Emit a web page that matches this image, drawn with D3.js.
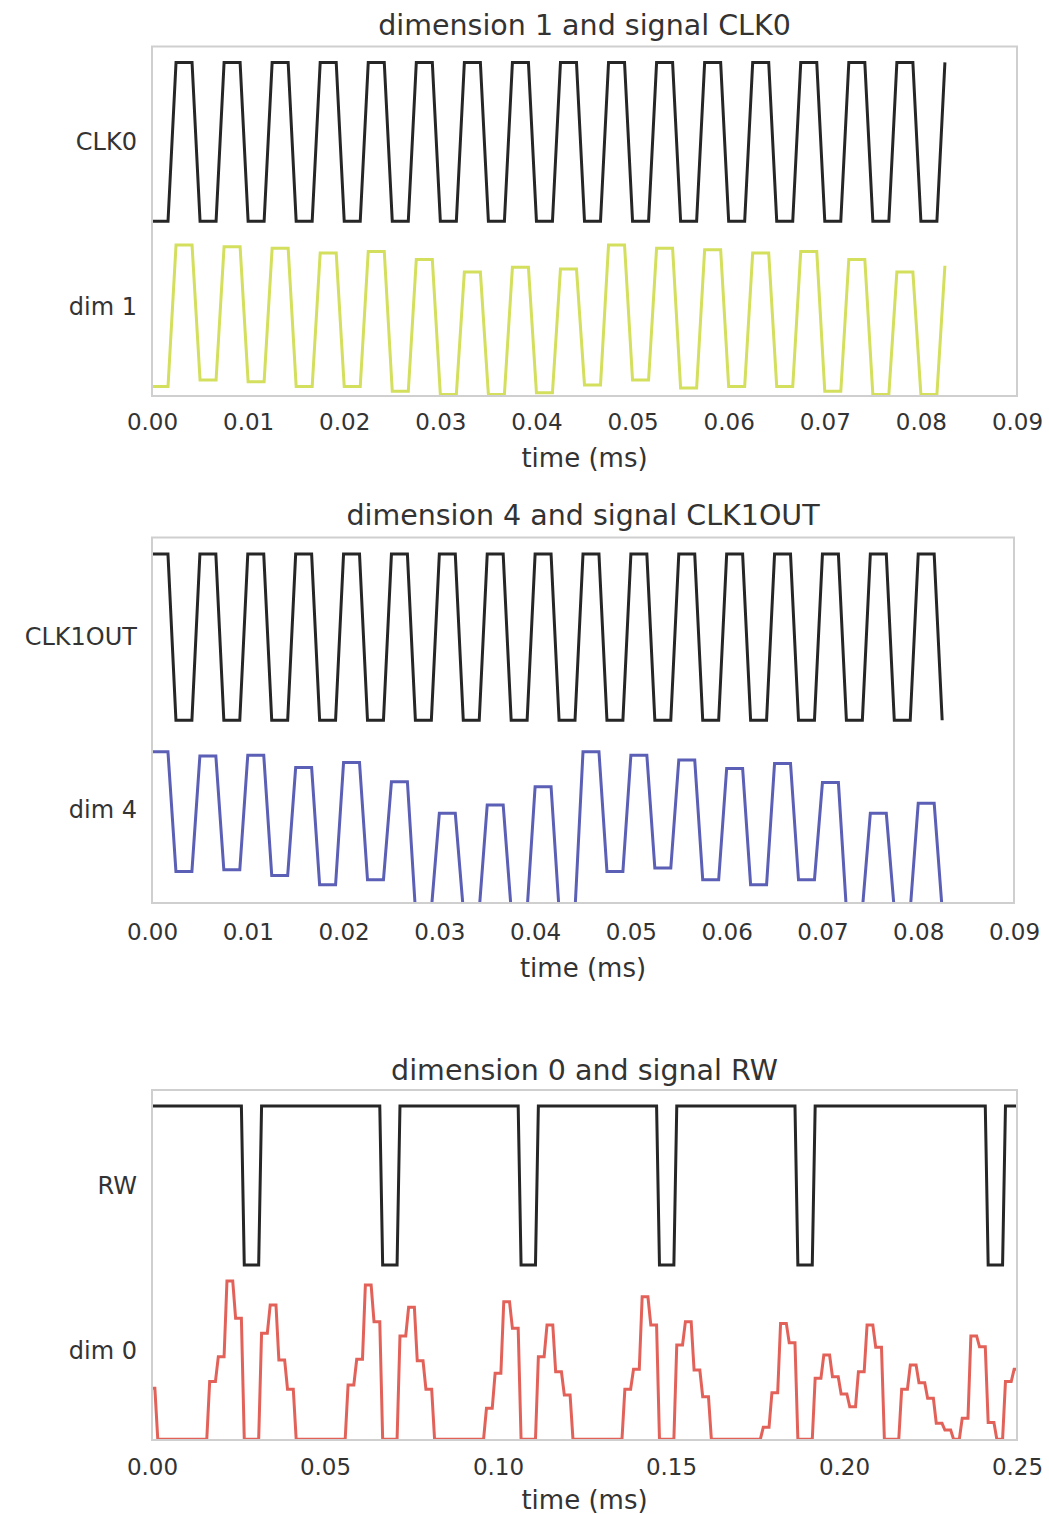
<!DOCTYPE html>
<html>
<head>
<meta charset="utf-8">
<script src="https://cdn.jsdelivr.net/npm/d3@7"></script>
<style>
  body { margin: 0; background: #fff; }
  text { font-family: "DejaVu Sans", sans-serif; fill: #333; }
</style>
</head>
<body>
<svg id="chart" width="1049" height="1514"></svg>
<script>
// Time between consecutive samples, in ms
const sampleStep = 1 / 1200;

// Clock / control signals (0 = low, 1 = high)
const clk0 = [
  0,0,0,1,1,1, 0,0,0,1,1,1, 0,0,0,1,1,1, 0,0,0,1,1,1,
  0,0,0,1,1,1, 0,0,0,1,1,1, 0,0,0,1,1,1, 0,0,0,1,1,1,
  0,0,0,1,1,1, 0,0,0,1,1,1, 0,0,0,1,1,1, 0,0,0,1,1,1,
  0,0,0,1,1,1, 0,0,0,1,1,1, 0,0,0,1,1,1, 0,0,0,1,1,1,
  0,0,0,1
];
const clk1out = [
  1,1,1,0,0,0, 1,1,1,0,0,0, 1,1,1,0,0,0, 1,1,1,0,0,0,
  1,1,1,0,0,0, 1,1,1,0,0,0, 1,1,1,0,0,0, 1,1,1,0,0,0,
  1,1,1,0,0,0, 1,1,1,0,0,0, 1,1,1,0,0,0, 1,1,1,0,0,0,
  1,1,1,0,0,0, 1,1,1,0,0,0, 1,1,1,0,0,0, 1,1,1,0,0,0,
  1,1,1,0
];
const rw = [
  1,1,1,1,1,1,1,1,1,1,1,1,1,1,1,1,1,1,1,1,1,1,1,1,1,1,1,1,1,1,1,1,
  0,0,0,0,0,0,
  1,1,1,1,1,1,1,1,1,1,1,1,1,1,1,1,1,1,1,1,1,1,1,1,1,1,1,1,1,1,1,1,1,1,1,1,1,1,1,1,1,1,
  0,0,0,0,0,0,
  1,1,1,1,1,1,1,1,1,1,1,1,1,1,1,1,1,1,1,1,1,1,1,1,1,1,1,1,1,1,1,1,1,1,1,1,1,1,1,1,1,1,
  0,0,0,0,0,0,
  1,1,1,1,1,1,1,1,1,1,1,1,1,1,1,1,1,1,1,1,1,1,1,1,1,1,1,1,1,1,1,1,1,1,1,1,1,1,1,1,1,1,
  0,0,0,0,0,0,
  1,1,1,1,1,1,1,1,1,1,1,1,1,1,1,1,1,1,1,1,1,1,1,1,1,1,1,1,1,1,1,1,1,1,1,1,1,1,1,1,1,1,
  0,0,0,0,0,0,
  1,1,1,1,1,1,1,1,1,1,1,1,1,1,1,1,1,1,1,1,1,1,1,1,1,1,1,1,1,1,
  1,1,1,1,1,1,1,1,1,1,1,1,1,1,1,1,1,1,1,1,1,1,1,1,1,1,1,1,1,1,
  0,0,0,0,0,0,
  1,1,1,1,1
];

// Model dimensions sampled on the same time base
const dim1 = [
  -0.04,-0.04,-0.04, 0.85,0.85,0.85, 0.00,0.00,0.00, 0.84,0.84,0.84,
  -0.01,-0.01,-0.01, 0.83,0.83,0.83, -0.04,-0.04,-0.04, 0.80,0.80,0.80,
  -0.04,-0.04,-0.04, 0.81,0.81,0.81, -0.07,-0.07,-0.07, 0.76,0.76,0.76,
  -0.09,-0.09,-0.09, 0.68,0.68,0.68, -0.09,-0.09,-0.09, 0.71,0.71,0.71,
  -0.08,-0.08,-0.08, 0.70,0.70,0.70, -0.03,-0.03,-0.03, 0.85,0.85,0.85,
  0.00,0.00,0.00, 0.83,0.83,0.83, -0.05,-0.05,-0.05, 0.82,0.82,0.82,
  -0.04,-0.04,-0.04, 0.80,0.80,0.80, -0.04,-0.04,-0.04, 0.81,0.81,0.81,
  -0.07,-0.07,-0.07, 0.76,0.76,0.76, -0.09,-0.09,-0.09, 0.68,0.68,0.68,
  -0.09,-0.09,-0.09, 0.72
];
const dim4 = [
  0.81,0.81,0.81, 0.09,0.09,0.09, 0.785,0.785,0.785, 0.10,0.10,0.10,
  0.79,0.79,0.79, 0.066,0.066,0.066, 0.715,0.715,0.715, 0.01,0.01,0.01,
  0.745,0.745,0.745, 0.04,0.04,0.04, 0.63,0.63,0.63, -0.14,-0.14,-0.14,
  0.44,0.44,0.44, -0.14,-0.14,-0.14, 0.49,0.49,0.49, -0.14,-0.14,-0.14,
  0.60,0.60,0.60, -0.14,-0.14,-0.14, 0.81,0.81,0.81, 0.09,0.09,0.09,
  0.79,0.79,0.79, 0.11,0.11,0.11, 0.76,0.76,0.76, 0.04,0.04,0.04,
  0.71,0.71,0.71, 0.01,0.01,0.01, 0.74,0.74,0.74, 0.04,0.04,0.04,
  0.625,0.625,0.625, -0.14,-0.14,-0.14, 0.44,0.44,0.44, -0.14,-0.14,-0.14,
  0.50,0.50,0.50, -0.14
];
const dim0 = [
  0.225,0.225,
  -0.095,-0.095,-0.095,-0.095,-0.095,-0.095,-0.095,-0.095,-0.095,-0.095,-0.095,-0.095,-0.095,-0.095,-0.095,-0.095,-0.095,-0.095,
  0.267,0.267,0.267, 0.424,0.424,0.424, 0.90,0.90,0.90, 0.665,0.665,0.665,
  -0.095,-0.095,-0.095,-0.095,-0.095,-0.095,
  0.571,0.571,0.571, 0.749,0.749,0.749, 0.403,0.403,0.403, 0.219,0.219,0.219,
  -0.095,-0.095,-0.095,-0.095,-0.095,-0.095,-0.095,-0.095,-0.095,-0.095,-0.095,-0.095,-0.095,-0.095,-0.095,-0.095,-0.095,-0.095,
  0.246,0.246,0.246, 0.407,0.407,0.407, 0.874,0.874,0.874, 0.644,0.644,0.644,
  -0.095,-0.095,-0.095,-0.095,-0.095,-0.095,
  0.554,0.554,0.554, 0.734,0.734,0.734, 0.398,0.398,0.398, 0.219,0.219,0.219,
  -0.095,-0.095,-0.095,-0.095,-0.095,-0.095,-0.095,-0.095,-0.095,-0.095,-0.095,-0.095,-0.095,-0.095,-0.095,-0.095,-0.095,-0.095,
  0.099,0.099,0.099, 0.319,0.319,0.319, 0.769,0.769,0.769, 0.602,0.602,0.602,
  -0.095,-0.095,-0.095,-0.095,-0.095,-0.095,
  0.424,0.424,0.424, 0.623,0.623,0.623, 0.329,0.329,0.329, 0.183,0.183,0.183,
  -0.095,-0.095,-0.095,-0.095,-0.095,-0.095,-0.095,-0.095,-0.095,-0.095,-0.095,-0.095,-0.095,-0.095,-0.095,-0.095,-0.095,-0.095,
  0.219,0.219,0.219, 0.344,0.344,0.344, 0.80,0.80,0.80, 0.623,0.623,0.623,
  -0.095,-0.095,-0.095,-0.095,-0.095,-0.095,
  0.497,0.497,0.497, 0.644,0.644,0.644, 0.34,0.34,0.34, 0.172,0.172,0.172,
  -0.095,-0.095,-0.095,-0.095,-0.095,-0.095,-0.095,-0.095,-0.095,-0.095,-0.095,-0.095,-0.095,-0.095,-0.095,-0.095,-0.095,-0.095,
  -0.02,-0.02,-0.02, 0.197,0.197,0.197, 0.633,0.633,0.633, 0.512,0.512,0.512,
  -0.095,-0.095,-0.095,-0.095,-0.095,-0.095,
  0.288,0.288,0.288, 0.434,0.434,0.434, 0.298,0.298,0.298, 0.189,0.189,0.189,
  0.109,0.109,0.109, 0.329,0.329,0.329, 0.623,0.623,0.623, 0.483,0.483,0.483,
  -0.095,-0.095,-0.095,-0.095,-0.095,-0.095,
  0.219,0.219,0.219, 0.371,0.371,0.371, 0.26,0.26,0.26, 0.162,0.162,0.162,
  0.005,0.005,0.005, -0.037,-0.037,-0.037,
  -0.095,-0.095,-0.095,
  0.036,0.036,0.036, 0.554,0.554,0.554, 0.486,0.486,0.486,
  0.01,0.01,0.01,
  -0.095,-0.095,-0.095,
  0.267,0.267,0.267, 0.344,0.344
];

// Axis tick positions
const shortTicks = [0, 0.01, 0.02, 0.03, 0.04, 0.05, 0.06, 0.07, 0.08, 0.09];
const longTicks = [0, 0.05, 0.10, 0.15, 0.20, 0.25];
const rowTicks = [0.46, 1.5]; // y positions of the dimension and signal rows

const panels = [
  { title: "dimension 1 and signal CLK0", signalName: "CLK0", dimName: "dim 1",
    signal: clk0, dim: dim1, color: "#d3df5d", xMax: 0.09, xTicks: shortTicks },
  { title: "dimension 4 and signal CLK1OUT", signalName: "CLK1OUT", dimName: "dim 4",
    signal: clk1out, dim: dim4, color: "#5b5fb5", xMax: 0.09, xTicks: shortTicks },
  { title: "dimension 0 and signal RW", signalName: "RW", dimName: "dim 0",
    signal: rw, dim: dim0, color: "#e2625a", xMax: 0.25, xTicks: longTicks }
];

// Panel placement on the page
const layout = [
  { left: 152, right: 1017, top: 46.5, bottom: 396, titleY: 25, tickY: 422, labelY: 458 },
  { left: 152, right: 1014, top: 537.5, bottom: 903, titleY: 515, tickY: 932, labelY: 968 },
  { left: 152, right: 1017, top: 1090, bottom: 1440, titleY: 1070, tickY: 1467, labelY: 1500 }
];

const svg = d3.select("#chart");

panels.forEach((p, k) => {
  const L = layout[k];
  const x = d3.scaleLinear().domain([0, p.xMax]).range([L.left, L.right]);
  const y = d3.scaleLinear().domain([-0.1, 2.1]).range([L.bottom, L.top]);

  const g = svg.append("g");

  const clipId = "clip" + k;
  svg.append("defs").append("clipPath").attr("id", clipId)
    .append("rect")
    .attr("x", L.left).attr("y", L.top)
    .attr("width", L.right - L.left).attr("height", L.bottom - L.top);

  const plot = g.append("g").attr("clip-path", `url(#${clipId})`);

  const signalLine = d3.line()
    .x((d, i) => x(i * sampleStep))
    .y(d => y(d + 1));
  const dimLine = d3.line()
    .x((d, i) => x(i * sampleStep))
    .y(d => y(d));

  plot.append("path")
    .attr("d", signalLine(p.signal))
    .attr("fill", "none")
    .attr("stroke", "#262626")
    .attr("stroke-width", 3)
    .attr("stroke-linejoin", "miter");

  plot.append("path")
    .attr("d", dimLine(p.dim))
    .attr("fill", "none")
    .attr("stroke", p.color)
    .attr("stroke-width", 3)
    .attr("stroke-linejoin", "miter");

  // Frame
  g.append("rect")
    .attr("x", L.left).attr("y", L.top)
    .attr("width", L.right - L.left).attr("height", L.bottom - L.top)
    .attr("fill", "none")
    .attr("stroke", "#cfcfcf")
    .attr("stroke-width", 2);

  // X axis
  const xAxis = g.append("g")
    .attr("transform", `translate(0,${L.bottom})`)
    .call(d3.axisBottom(x).tickValues(p.xTicks).tickSize(0).tickFormat(d3.format(".2f")));
  xAxis.select(".domain").remove();
  xAxis.selectAll("text")
    .attr("y", L.tickY - L.bottom)
    .attr("dy", "0.35em")
    .attr("fill", "#333")
    .style("font-size", "23px")
    .style("font-family", "DejaVu Sans, sans-serif");

  // Y axis with row names
  const names = { 0.46: p.dimName, 1.5: p.signalName };
  const yAxis = g.append("g")
    .attr("transform", `translate(${L.left},0)`)
    .call(d3.axisLeft(y).tickValues(rowTicks).tickSize(0).tickPadding(15)
      .tickFormat(d => names[d]));
  yAxis.select(".domain").remove();
  yAxis.selectAll("text")
    .attr("fill", "#333")
    .style("font-size", "24px")
    .style("font-family", "DejaVu Sans, sans-serif");

  // Titles
  g.append("text")
    .attr("x", (L.left + L.right) / 2)
    .attr("y", L.titleY)
    .attr("dy", "0.35em")
    .attr("text-anchor", "middle")
    .style("font-size", "28.5px")
    .text(p.title);

  g.append("text")
    .attr("x", (L.left + L.right) / 2)
    .attr("y", L.labelY)
    .attr("dy", "0.35em")
    .attr("text-anchor", "middle")
    .style("font-size", "26px")
    .text("time (ms)");
});
</script>
</body>
</html>
